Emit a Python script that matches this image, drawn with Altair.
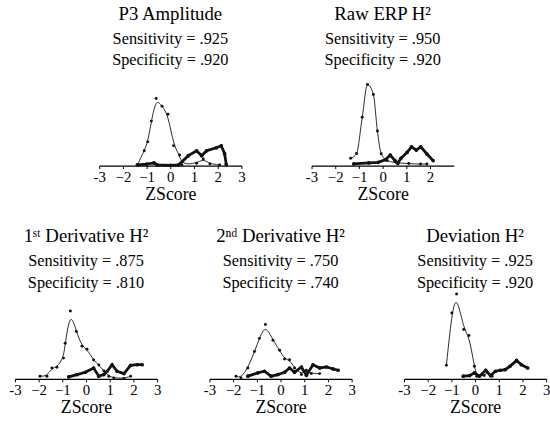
import altair as alt
import pandas as pd

# Z-score bins and percent of subjects per bin, two groups per measure
# (thin line = group A, smoothed; thick line = group B)
titles = ["P3 Amplitude", "Raw ERP H²", "1ˢᵗ Derivative H²", "2ⁿᵈ Derivative H²", "Deviation H²"]
sensitivity = [".925", ".950", ".875", ".750", ".925"]
specificity = [".920", ".920", ".810", ".740", ".920"]

p3_thin_z = [-1.39, -1.10, -0.95, -0.80, -0.60, -0.35, -0.10, 0.14, 0.39, 0.49, 1.11, 1.39, 1.67, 2.08]
p3_thin_y = [0.7, 15.0, 24.0, 45.0, 68.0, 60.0, 52.0, 20.0, 10.7, 0.7, 2.3, 6.7, 1.7, 0.7]
p3_thick_z = [-1.39, -1.00, -0.69, -0.56, 0.00, 0.35, 0.76, 1.11, 1.32, 1.53, 1.94, 2.15, 2.29, 2.36]
p3_thick_y = [0.7, 1.5, 2.7, 0.7, 0.3, 0.7, 10.0, 15.0, 10.0, 15.0, 18.0, 20.0, 12.0, 1.0]

raw_thin_z = [-1.35, -1.10, -0.86, -0.64, -0.39, -0.22, -0.06, 0.19, 0.58, 1.10, 1.60, 1.87]
raw_thin_y = [7.3, 12.3, 49.0, 82.0, 72.0, 35.0, 12.0, 5.0, 3.0, 2.0, 1.5, 1.5]
raw_thick_z = [-1.22, -0.58, -0.19, 0.13, 0.32, 0.52, 0.64, 0.77, 1.03, 1.22, 1.42, 1.61, 1.87, 2.13]
raw_thick_y = [1.7, 2.7, 3.3, 6.0, 10.7, 5.0, 2.3, 7.3, 13.3, 19.0, 15.7, 19.0, 11.7, 5.0]

d1_thin_z = [-1.94, -1.65, -1.44, -1.23, -0.95, -0.88, -0.66, -0.41, -0.17, 0.04, 0.32, 0.54, 0.75, 0.96, 1.17, 1.60, 1.88]
d1_thin_y = [2.7, 2.7, 11.0, 11.7, 21.0, 36.0, 68.7, 48.0, 33.0, 30.0, 19.0, 14.0, 8.0, 2.7, 1.0, 0.3, 2.7]
d1_thick_z = [-0.73, -0.38, -0.03, 0.32, 0.54, 0.75, 0.89, 1.10, 1.31, 1.60, 1.88, 2.16, 2.37]
d1_thick_y = [2.0, 4.3, 6.7, 11.0, 2.7, 4.3, 7.7, 14.3, 7.7, 5.3, 13.7, 14.3, 14.3]

d2_thin_z = [-1.88, -1.67, -1.38, -1.10, -0.89, -0.64, -0.32, -0.04, 0.17, 0.38, 0.59, 0.88, 1.09, 1.30, 1.65]
d2_thin_y = [2.7, 1.0, 11.0, 27.7, 41.0, 55.0, 39.0, 29.0, 20.0, 19.3, 11.0, 4.3, 8.7, 5.3, 5.3]
d2_thick_z = [-1.38, -0.96, -0.68, -0.40, -0.11, 0.17, 0.38, 0.59, 0.88, 1.09, 1.37, 1.65, 1.94, 2.22, 2.43]
d2_thick_y = [2.7, 6.0, 7.7, 2.7, 4.3, 6.7, 11.0, 6.7, 12.0, 3.7, 14.3, 11.0, 12.0, 10.0, 8.7]

dev_thin_z = [-1.21, -0.98, -0.78, -0.48, -0.26, -0.03, 0.07, 0.38, 0.52, 0.72]
dev_thin_y = [13.7, 66.7, 86.0, 50.0, 44.0, 12.7, 2.7, 3.3, 6.7, 2.7]
dev_thick_z = [-0.50, -0.23, -0.03, 0.18, 0.45, 0.65, 0.86, 1.06, 1.27, 1.47, 1.75, 1.95, 2.22]
dev_thick_y = [2.7, 3.3, 6.0, 2.7, 8.7, 3.3, 7.7, 8.7, 9.3, 12.7, 18.7, 14.3, 11.0]

series = [
    (p3_thin_z, p3_thin_y, p3_thick_z, p3_thick_y),
    (raw_thin_z, raw_thin_y, raw_thick_z, raw_thick_y),
    (d1_thin_z, d1_thin_y, d1_thick_z, d1_thick_y),
    (d2_thin_z, d2_thin_y, d2_thick_z, d2_thick_y),
    (dev_thin_z, dev_thin_y, dev_thick_z, dev_thick_y),
]
# smoothing used for the thin curve of each measure
thin_curve = ["basis", "monotone", "basis", "basis", "basis"]
tick_values = [
    [-3, -2, -1, 0, 1, 2, 3],
    [-3, -2, -1, 0, 1, 2],
    [-3, -2, -1, 0, 1, 2, 3],
    [-3, -2, -1, 0, 1, 2, 3],
    [-3, -2, -1, 0, 1, 2, 3],
]

FONT = "Liberation Serif, Times New Roman, serif"
INK = "#111111"
Y_MAX = 90


def panel(i, title_offset):
    tz, ty, kz, ky = series[i]
    df = pd.concat([
        pd.DataFrame({"z": tz, "pct": ty, "group": "A"}),
        pd.DataFrame({"z": kz, "pct": ky, "group": "B"}),
    ])
    x = alt.X(
        "z:Q",
        scale=alt.Scale(domain=[-3, 3], nice=False, zero=False),
        axis=alt.Axis(
            title="ZScore",
            values=tick_values[i],
            labelExpr="datum.value == -3 ? '-3' : datum.label",
        ),
    )
    y = alt.Y("pct:Q", scale=alt.Scale(domain=[0, Y_MAX], nice=False), axis=None)
    base = alt.Chart(df)
    thin = base.transform_filter("datum.group == 'A'")
    thin_line = thin.mark_line(color=INK, strokeWidth=0.9, interpolate=thin_curve[i]).encode(x=x, y=y)
    thin_dots = thin.mark_point(filled=True, size=9, color=INK, opacity=1).encode(x=x, y=y)
    thick = base.transform_filter("datum.group == 'B'").mark_line(
        color=INK, strokeWidth=2.8, interpolate="linear",
        point=alt.OverlayMarkDef(filled=True, size=14, color=INK),
    ).encode(x=x, y=y)
    return alt.layer(thin_line, thin_dots, thick).properties(
        width=144,
        height=Y_MAX,
        title=alt.TitleParams(
            text=titles[i],
            subtitle=[f"Sensitivity = {sensitivity[i]}", f"Specificity = {specificity[i]}"],
            anchor="middle",
            offset=title_offset,
        ),
    )


# an empty strip that nudges the centred top row to the left
nudge = alt.Chart(pd.DataFrame({"z": [0]})).mark_point(opacity=0).encode(
    x=alt.X("z:Q", axis=None), y=alt.value(0)
).properties(width=12, height=Y_MAX)

top = alt.hconcat(alt.hconcat(panel(0, 8), panel(1, 8), spacing=60), nudge, spacing=0)
bottom = alt.hconcat(panel(2, -1), panel(3, -1), panel(4, -1), spacing=42)
chart = (
    alt.vconcat(top, bottom, spacing=24, center=True)
    .configure(background="white", padding={"left": 8, "right": 0, "top": 2, "bottom": 0})
    .configure_view(stroke=None)
    .configure_axis(
        grid=False,
        domainColor="black",
        domainWidth=1.2,
        tickColor="black",
        tickSize=3,
        labelFont=FONT,
        labelFontSize=15,
        labelColor="black",
        labelPadding=1,
        labelFlush=False,
        titleFont=FONT,
        titleFontSize=18,
        titleFontWeight="normal",
        titleColor="black",
        titlePadding=1,
    )
    .configure_title(
        font=FONT,
        fontSize=19,
        fontWeight="normal",
        color="black",
        subtitleFont=FONT,
        subtitleFontSize=16.5,
        subtitleColor="black",
        subtitlePadding=7,
        subtitleLineHeight=22,
    )
)

chart.save("out.html", embed_options={"renderer": "svg", "actions": False})
